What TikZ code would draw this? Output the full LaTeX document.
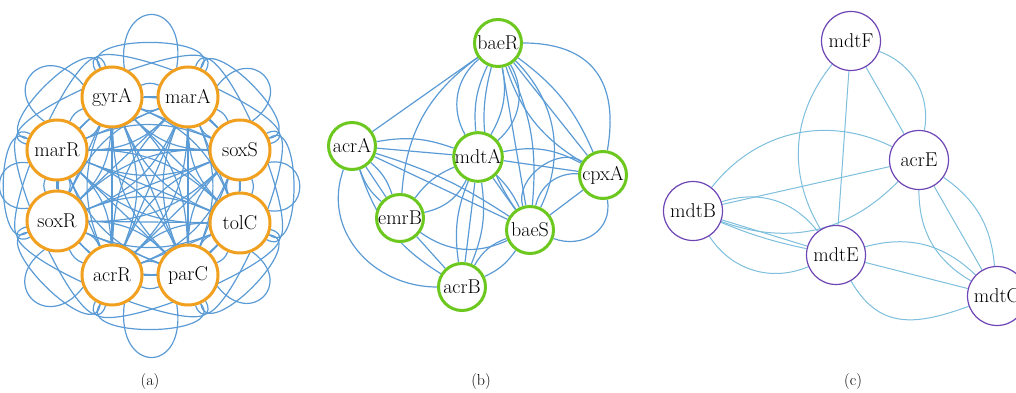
\documentclass[tikz,border=0pt]{standalone}
\usetikzlibrary{backgrounds}
\definecolor{eblue}{HTML}{5B9BD5}
\definecolor{cblue}{HTML}{7DBFDC}
\definecolor{ora}{HTML}{F0A01E}
\definecolor{grn}{HTML}{6CC81E}
\definecolor{pur}{HTML}{6E45B4}
\tikzset{
  nA/.style={circle, draw=ora, line width=3pt, fill=white, minimum size=60pt, inner sep=0pt},
  nB/.style={circle, draw=grn, line width=3pt, fill=white, minimum size=47pt, inner sep=0pt},
  nC/.style={circle, draw=pur, line width=1.2pt, fill=white, minimum size=59pt, inner sep=0pt},
  eA/.style={draw=eblue, line width=1.2pt},
  eB/.style={draw=eblue, line width=1.2pt},
  eC/.style={draw=cblue, line width=1pt},
  captext/.style={font=\fontsize{16}{16}\selectfont}
}
\begin{document}
\begin{tikzpicture}[x=1pt,y=1pt,font=\fontsize{20}{20}\selectfont]
\useasboundingbox (0,0) rectangle (1016,393);
\clip (0,0) rectangle (1016,393);
% ---------- (a)
\node[nA] (a1) at (188,296) {marA};
\node[nA] (a2) at (112,296) {gyrA};
\node[nA] (a3) at (57,243) {marR};
\node[nA] (a4) at (57,172) {soxR};
\node[nA] (a5) at (112,118) {acrR};
\node[nA] (a6) at (188,118) {parC};
\node[nA] (a7) at (240,170) {tolC};
\node[nA] (a8) at (240,243) {soxS};
\begin{scope}[on background layer]
\foreach \i in {1,...,8}{
  \foreach \j in {1,...,8}{
    \ifnum\i<\j
      \draw[eA] (a\i) -- (a\j);
      \draw[eA] (a\i) to[bend left=22] (a\j);
      \draw[eA] (a\i) to[bend right=22] (a\j);
    \fi
  }
}
% tall petals between neighbours
\foreach \i/\ti/\j/\tj/\lo in {1/66/2/112/3.5,2/112/3/159/2.8,3/159/4/201/2.2,4/201/5/248/2.8,5/248/6/294/3.5,6/294/7/338/2.8,7/338/8/382/2.2,8/22/1/66/2.8}{
  \pgfmathsetmacro\ph{(\ti+\tj)/2}
  \draw[eA] (a\i.\ti+45) to[out=\ph-8,in=\ph+8,looseness=\lo] (a\j.\tj-45);
  \draw[eA] (a\i.\ti) to[out=\ti-15,in=\tj+15,looseness=1.1] (a\j.\tj);
}
% wider loops over one node
\foreach \i/\ti/\j/\tj in {1/66/3/159,2/112/4/201,3/159/5/248,4/201/6/294,5/248/7/338,6/294/8/382,7/338/1/426,8/22/2/112}{
  \draw[eA] (a\i.\ti-10) to[out=\ti-5,in=\tj+5,looseness=0.85] (a\j.\tj+10);
}
\end{scope}
% ---------- (b)
\node[nB] (baeR) at (498,350) {baeR};
\node[nB] (acrA) at (352,247) {acrA};
\node[nB] (mdtA) at (478,236) {mdtA};
\node[nB] (cpxA) at (603,218) {cpxA};
\node[nB] (emrB) at (400,175) {emrB};
\node[nB] (baeS) at (530,163) {baeS};
\node[nB] (acrB) at (462,106) {acrB};
\begin{scope}[on background layer]
\draw[eB] (acrA) -- (baeR);
\draw[eB] (acrA) to[bend left=15] (mdtA);
\draw[eB] (acrA) -- (mdtA);
\draw[eB] (mdtA) -- (cpxA);
\draw[eB] (mdtA) to[bend left=20] (cpxA);
\draw[eB] (baeR) to[bend right=40] (mdtA);
\draw[eB] (baeR) to[bend right=15] (mdtA);
\draw[eB] (baeR) to[bend left=20] (mdtA);
\draw[eB] (baeR) to[bend left=40] (mdtA);
\draw[eB] (baeR) to[bend right=25] (baeS);
\draw[eB] (baeR) -- (baeS);
\draw[eB] (baeR) to[bend left=15] (baeS);
\draw[eB] (baeR) to[bend left=35] (baeS);
\draw[eB] (baeR) to[out=0,in=80,looseness=1.3] (cpxA);
\draw[eB] (baeR) to[bend left=15] (cpxA);
\draw[eB] (baeR) -- (cpxA);
\draw[eB] (baeR) to[bend right=20] (cpxA);
\draw[eB] (baeR) to[bend right=25] (emrB);
\draw[eB] (acrA) -- (emrB);
\draw[eB] (acrA) to[bend left=15] (emrB);
\draw[eB] (acrA) to[bend right=15] (emrB);
\draw[eB] (acrA) to[out=250,in=180,looseness=1.1] (acrB);
\draw[eB] (acrA) to[bend right=20] (acrB);
\draw[eB] (acrA) -- (baeS);
\draw[eB] (acrA) to[bend left=8] (baeS);
\draw[eB] (emrB) to[bend left=15] (mdtA);
\draw[eB] (emrB) to[bend right=25] (mdtA);
\draw[eB] (emrB) to[bend right=30] (baeS);
\draw[eB] (emrB) -- (acrB);
\draw[eB] (mdtA) -- (acrB);
\draw[eB] (mdtA) to[bend right=15] (acrB);
\draw[eB] (mdtA) to[bend left=15] (acrB);
\draw[eB] (mdtA) -- (baeS);
\draw[eB] (mdtA) to[bend left=10] (baeS);
\draw[eB] (baeS) to[bend right=20] (acrB);
\draw[eB] (baeS) to[bend left=15] (acrB);
\draw[eB] (baeS) to[bend left=40] (cpxA);
\draw[eB] (baeS) to[bend left=70] (cpxA);
\draw[eB] (baeS) -- (cpxA);
\draw[eB] (cpxA) to[out=-80,in=-20,looseness=1.2] (baeS);
\end{scope}
% ---------- (c)
\node[nC] (mdtF) at (851,352) {mdtF};
\node[nC] (acrE) at (919,233) {acrE};
\node[nC] (mdtB) at (693,182) {mdtB};
\node[nC] (mdtE) at (836,138) {mdtE};
\node[nC] (mdtC) at (997,97) {mdtC};
\begin{scope}[on background layer]
\draw[eC] (mdtF) -- (acrE);
\draw[eC] (mdtF) to[bend left=40] (acrE);
\draw[eC] (mdtF) -- (mdtE);
\draw[eC] (mdtF) to[bend right=35] (mdtE);
\draw[eC] (mdtB) to[bend left=39] (acrE);
\draw[eC] (mdtB) -- (acrE);
\draw[eC] (mdtB) to[bend right=33] (acrE);
\draw[eC] (mdtB) -- (mdtE);
\draw[eC] (mdtB) to[bend right=5] (mdtE);
\draw[eC] (mdtB) to[bend left=35] (mdtE);
\draw[eC] (mdtB) to[bend right=40] (mdtE);
\draw[eC] (acrE) -- (mdtC);
\draw[eC] (acrE) to[bend left=25] (mdtC);
\draw[eC] (acrE) to[bend right=30] (mdtC);
\draw[eC] (mdtE) -- (mdtC);
\draw[eC] (mdtE) to[bend left=30] (mdtC);
\draw[eC] (mdtE) to[out=-60,in=-160,looseness=1.2] (mdtC);
\end{scope}
% ---------- captions
\node[captext] (la) at (150,11) {(a)};
\node[captext] (lb) at (481,11) {(b)};
\node[captext] (lc) at (853,11) {(c)};
\end{tikzpicture}
\end{document}
